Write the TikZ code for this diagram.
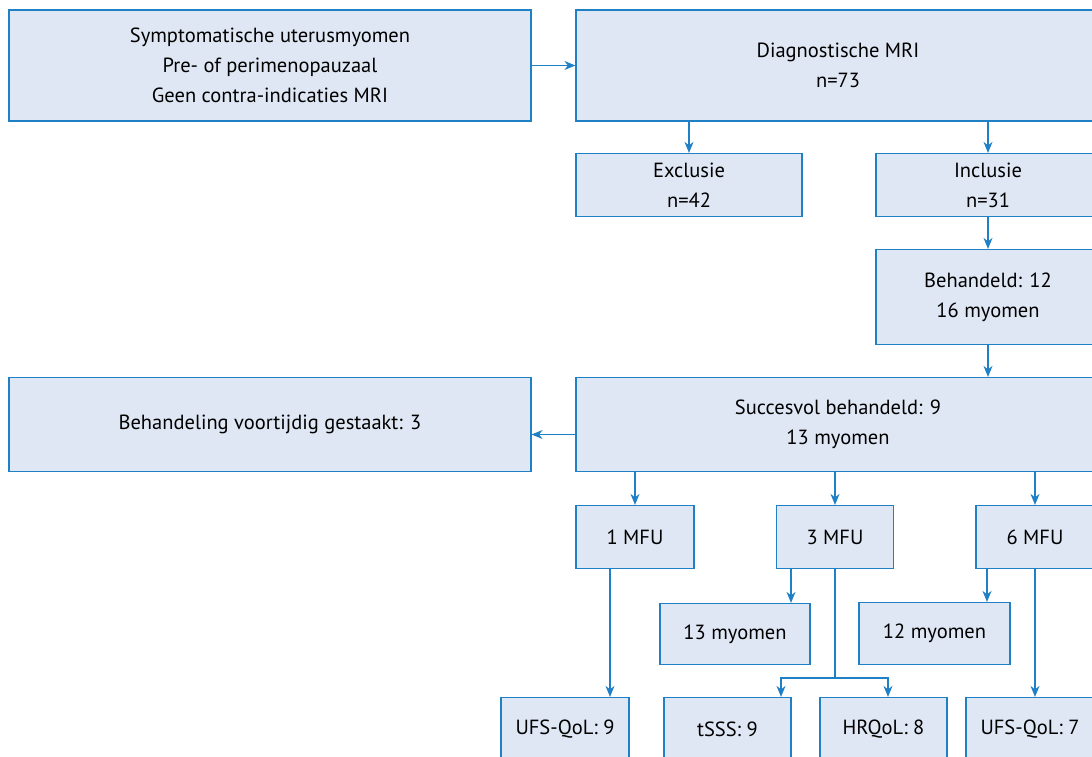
\documentclass[tikz,border=0pt]{standalone}
\usepackage{fontspec}
\setmainfont{PT Sans}
\usetikzlibrary{arrows.meta}
\definecolor{kaderblauw}{HTML}{1F80C6}
\definecolor{vulblauw}{HTML}{DFE7F4}
\tikzset{
    kader/.style={draw=kaderblauw, fill=vulblauw, line width=1.2pt, align=center,
        inner sep=0pt, font=\fontsize{20.5}{30}\selectfont},
    pijl/.style={draw=kaderblauw, line width=1.2pt, -{Stealth[length=11pt,width=9pt,inset=3.5pt]}},
    lijn/.style={draw=kaderblauw, line width=1.2pt}
}
\begin{document}
\begin{tikzpicture}
    \useasboundingbox (0pt,0pt) rectangle (1092pt,-756pt);
    \clip (0pt,0pt) rectangle (1092pt,-756pt);
    % bovenste rij
    \node[kader, minimum width=522pt, minimum height=111pt] (invoer) at (270pt,-65.5pt)
        {Symptomatische uterusmyomen\\Pre- of perimenopauzaal\\Geen contra-indicaties MRI};
    \node[kader, minimum width=524pt, minimum height=111pt] (diag) at (838pt,-65.5pt)
        {Diagnostische MRI\\n=73};
    \node[kader, minimum width=226pt, minimum height=63pt] (excl) at (689pt,-185pt) {Exclusie\\n=42};
    \node[kader, minimum width=224pt, minimum height=63pt] (incl) at (988pt,-185pt) {Inclusie\\n=31};
    \node[kader, minimum width=224pt, minimum height=95pt] (beh) at (988pt,-297pt) {Behandeld: 12\\16 myomen};
    \node[kader, minimum width=524pt, minimum height=94pt] (succ) at (838pt,-424.5pt) {Succesvol behandeld: 9\\13 myomen};
    \node[kader, minimum width=522pt, minimum height=94pt] (gestopt) at (270pt,-424.5pt) {Behandeling voortijdig gestaakt: 3};
    % follow-up
    \node[kader, minimum width=118pt, minimum height=63pt] (mfu1) at (635pt,-537pt) {1 MFU};
    \node[kader, minimum width=117pt, minimum height=63pt] (mfu3) at (835pt,-537pt) {3 MFU};
    \node[kader, minimum width=118pt, minimum height=63pt] (mfu6) at (1035pt,-537pt) {6 MFU};
    \node[kader, minimum width=150pt, minimum height=61pt] (myo13) at (735pt,-634pt) {13 myomen};
    \node[kader, minimum width=151pt, minimum height=62pt] (myo12) at (934.5pt,-633.5pt) {12 myomen};
    \node[kader, minimum width=128pt, minimum height=63pt] (ufs9) at (565pt,-729pt) {UFS-QoL: 9};
    \node[kader, minimum width=127pt, minimum height=63pt] (tsss) at (727.5pt,-729pt) {tSSS: 9};
    \node[kader, minimum width=127pt, minimum height=63pt] (hrqol) at (883.5pt,-729pt) {HRQoL: 8};
    \node[kader, minimum width=128pt, minimum height=63pt] (ufs7) at (1030pt,-729pt) {UFS-QoL: 7};
    \coordinate (splits) at (835pt,-678pt);
    % pijlen
    \draw[pijl] (invoer.east) -- (diag.west);
    \draw[pijl] (excl.north |- diag.south) -- (excl.north);
    \draw[pijl] (incl.north |- diag.south) -- (incl.north);
    \draw[pijl] (incl.south) -- (beh.north);
    \draw[pijl] (beh.south) -- (beh.south |- succ.north);
    \draw[pijl] ([yshift=-10pt]succ.west) -- ([yshift=-10pt]gestopt.east);
    \draw[pijl] (mfu1.north |- succ.south) -- (mfu1.north);
    \draw[pijl] (mfu3.north |- succ.south) -- (mfu3.north);
    \draw[pijl] (mfu6.north |- succ.south) -- (mfu6.north);
    \draw[pijl] ([xshift=-44pt]mfu3.south) -- ([xshift=-44pt]mfu3.south |- myo13.north);
    \draw[pijl] ([xshift=-48pt]mfu6.south) -- ([xshift=-48pt]mfu6.south |- myo12.north);
    \draw[pijl] ([xshift=-25pt]mfu1.south) -- ([xshift=-25pt]mfu1.south |- ufs9.north);
    \draw[lijn] (mfu3.south) -- (splits);
    \draw[pijl] (splits) -| ([xshift=53.5pt]tsss.north);
    \draw[pijl] (splits) -| ([xshift=4.5pt]hrqol.north);
    \draw[pijl] (mfu6.south) -- (mfu6.south |- ufs7.north);
\end{tikzpicture}
\end{document}
